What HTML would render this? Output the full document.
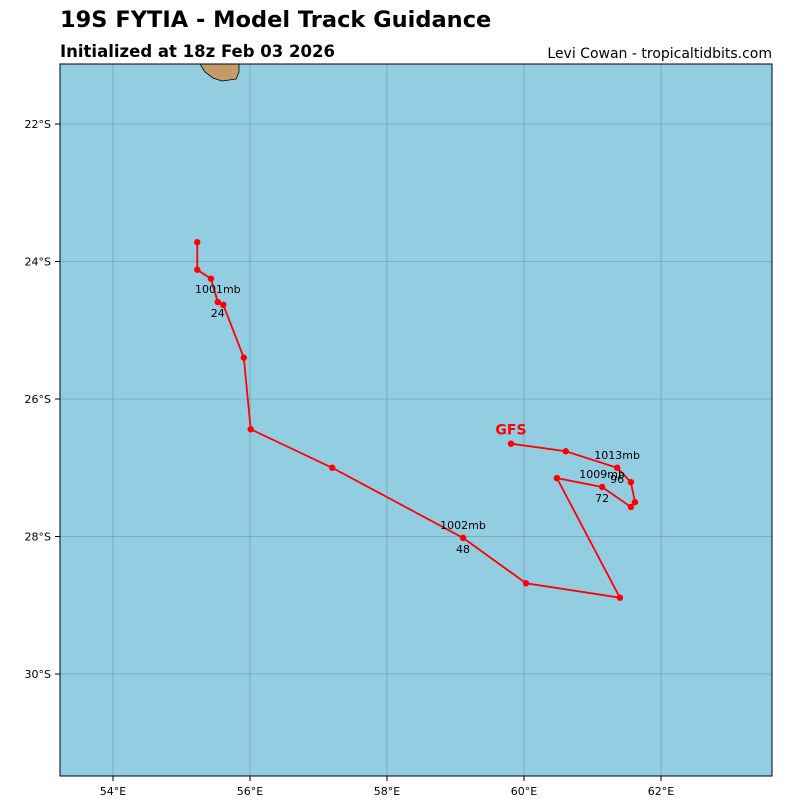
<!DOCTYPE html>
<html><head><meta charset="utf-8"><style>
body{margin:0;background:#fff;font-family:"Liberation Sans","DejaVu Sans",sans-serif}
</style></head><body>
<svg width="800" height="800" xmlns="http://www.w3.org/2000/svg">
<text x="60" y="27" font-size="22.5" font-weight="bold" font-family="DejaVu Sans,Liberation Sans,sans-serif">19S FYTIA - Model Track Guidance</text>
<text x="60" y="57" font-size="16.5" font-weight="bold" font-family="DejaVu Sans,Liberation Sans,sans-serif">Initialized at 18z Feb 03 2026</text>
<text x="772" y="58" font-size="14" text-anchor="end" font-family="DejaVu Sans,Liberation Sans,sans-serif">Levi Cowan - tropicaltidbits.com</text>
<rect x="60" y="64" width="712" height="712" fill="#93cde2"/>
<polygon points="200,64 205,72 213,78 222,81 236,79 239,72 239,64" fill="#c49c6a" stroke="#000" stroke-width="0.8"/>
<g id="grid"></g>
<g id="track"></g>
<g id="labels" font-size="11" font-family="DejaVu Sans,Liberation Sans,sans-serif"></g>
<rect x="60" y="64" width="712" height="712" fill="none" stroke="#000" stroke-width="1"/>
</svg>
<script>
const lonTicks=[54,56,58,60,62];
const latTicks=[22,24,26,28,30];
const trackLon=[55.23,55.23,55.43,55.53,55.61,55.91,56.01,57.20,59.11,60.03,61.40,60.48,61.14,61.56,61.62,61.56,61.36,60.61,59.81];
const trackLat=[23.72,24.12,24.25,24.59,24.63,25.40,26.44,27.00,28.02,28.68,28.89,27.15,27.28,27.57,27.50,27.21,27.00,26.76,26.65];
const annotIdx=[3,8,12,16];
const annotHour=["24","48","72","96"];
const annotPres=["1001mb","1002mb","1009mb","1013mb"];
const modelName="GFS";
const X=lon=>113+(lon-54)*68.5;
const Y=lat=>124+(lat-22)*68.75;
const NS="http://www.w3.org/2000/svg";
function mk(tag,attrs,parent){const e=document.createElementNS(NS,tag);for(const k in attrs)e.setAttribute(k,attrs[k]);parent.appendChild(e);return e;}
const grid=document.getElementById('grid'),svg=grid.ownerSVGElement;
lonTicks.forEach(l=>{const x=X(l);
 const ln=mk('line',{x1:x,x2:x,y1:64,y2:776,stroke:'#000','stroke-opacity':0.3,'stroke-width':0.6},grid);
 
 
 mk('line',{x1:x,x2:x,y1:776,y2:781,stroke:'#000'},grid);
 const t=mk('text',{x:x,y:795,'font-size':11,'text-anchor':'middle','font-family':'DejaVu Sans,sans-serif'},svg);t.textContent=l+'°E';
 
 });
latTicks.forEach(l=>{const y=Y(l);
 const ln=mk('line',{x1:60,x2:772,y1:y,y2:y,stroke:'#000','stroke-opacity':0.3,'stroke-width':0.6},grid);
 
 
 mk('line',{x1:55,x2:60,y1:y,y2:y,stroke:'#000'},grid);
 const t=mk('text',{x:51,y:y+4,'font-size':11,'text-anchor':'end','font-family':'DejaVu Sans,sans-serif'},svg);t.textContent=l+'°S';
 
 });
const tr=document.getElementById('track');
const pl=mk('polyline',{points:trackLon.map((l,i)=>X(l)+','+Y(trackLat[i])).join(' '),fill:'none',stroke:'#f00','stroke-width':1.8},tr);


trackLon.forEach((l,i)=>{const c=mk('circle',{cx:X(l),cy:Y(trackLat[i]),r:3.2,fill:'#f00'},tr);
 
 });
const lb=document.getElementById('labels');
annotIdx.forEach((k,j)=>{const x=X(trackLon[k]),y=Y(trackLat[k]);
 const p=mk('text',{x:x,y:y-9,'text-anchor':'middle'},lb);p.textContent=annotPres[j];
 
 
 const h=mk('text',{x:x,y:y+15,'text-anchor':'middle'},lb);h.textContent=annotHour[j];
 
 });
const last=trackLon.length-1;
const g=mk('text',{x:X(trackLon[last]),y:Y(trackLat[last])-9,'text-anchor':'middle','font-size':14,'font-weight':'bold',fill:'#f00'},lb);g.textContent=modelName;


</script>
</body></html>
